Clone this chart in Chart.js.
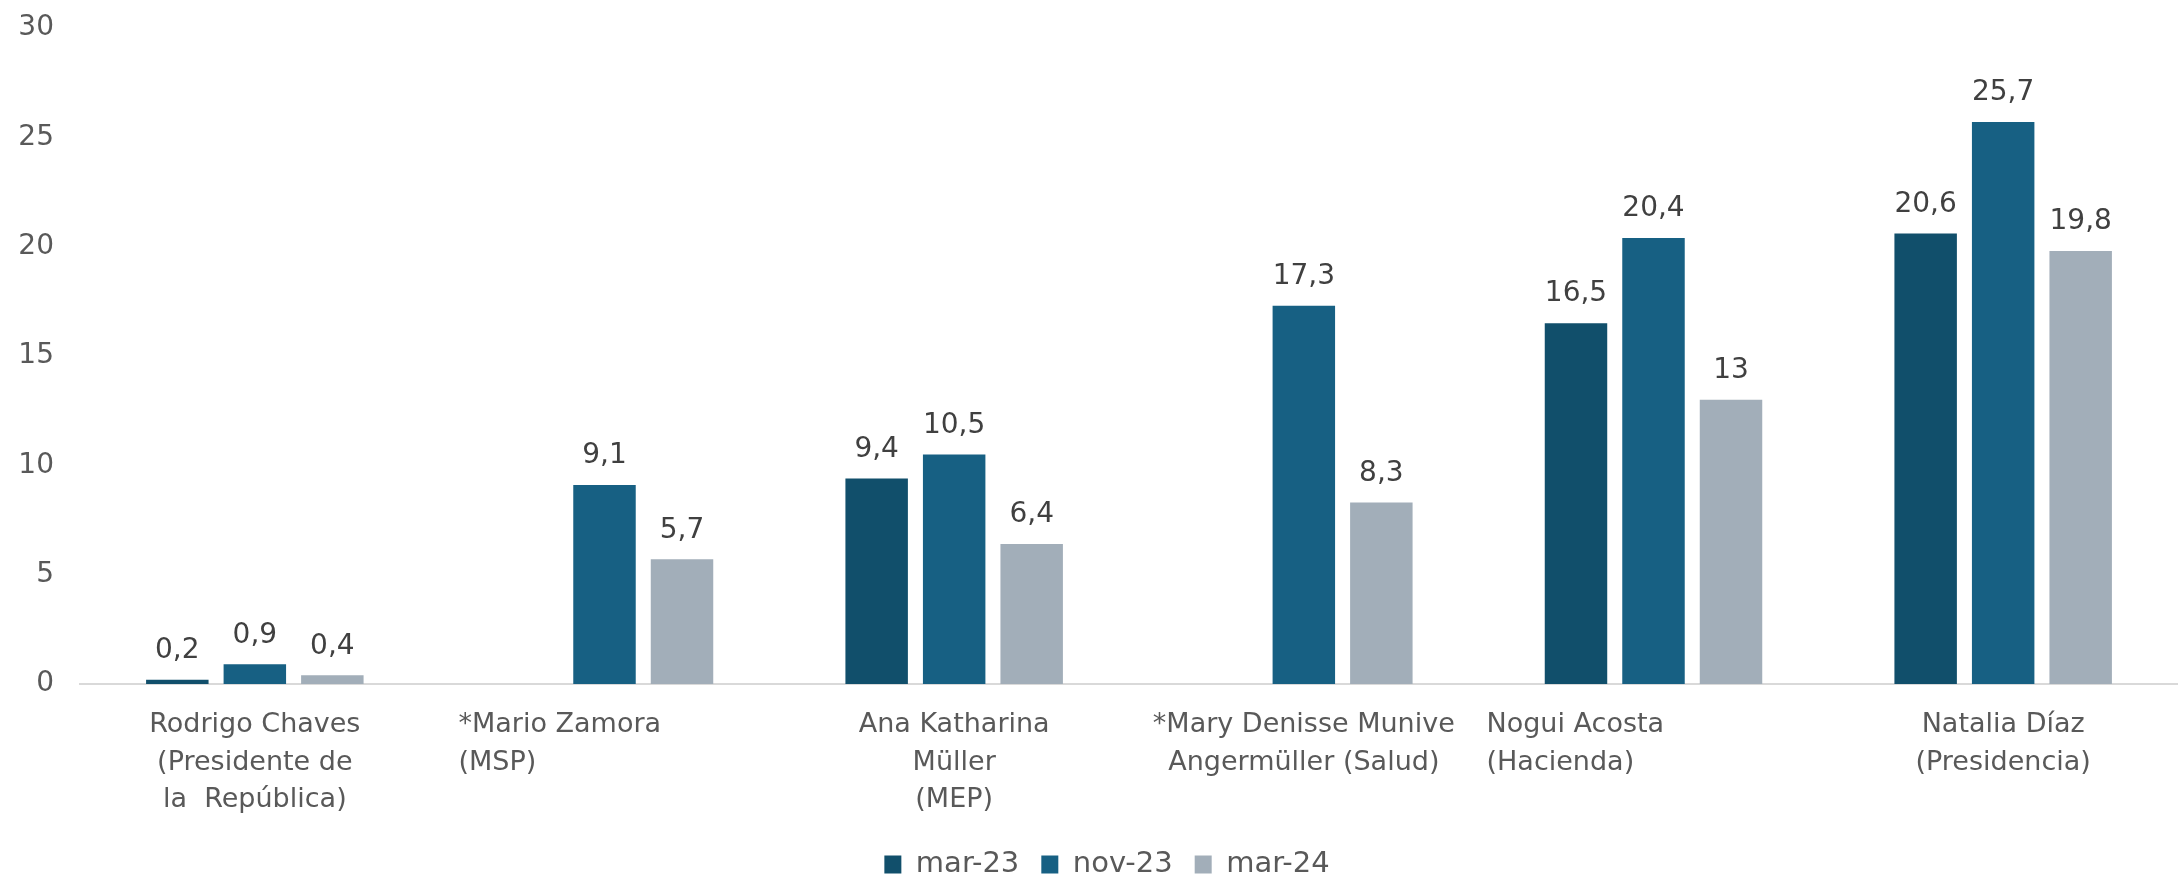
<!DOCTYPE html>
<html>
<head>
<meta charset="utf-8">
<script src="https://cdn.jsdelivr.net/npm/chart.js@4.4.1/dist/chart.umd.min.js"></script>
<style>
  html, body { margin: 0; padding: 0; background: #ffffff; }
  #wrap { width: 2178px; height: 878px; position: relative; }
</style>
</head>
<body>
<div id="wrap"><canvas id="c"></canvas></div>
<script>
// ---- Data ----
const categories = [
  ["Rodrigo Chaves", "(Presidente de", "la  República)"],
  ["*Mario Zamora", "(MSP)"],
  ["Ana Katharina", "Müller", "(MEP)"],
  ["*Mary Denisse Munive", "Angermüller (Salud)"],
  ["Nogui Acosta", "(Hacienda)"],
  ["Natalia Díaz", "(Presidencia)"]
];
const seriesNames = ["mar-23", "nov-23", "mar-24"];
const mar23 = [0.2, null, 9.4, null, 16.5, 20.6];
const nov23 = [0.9, 9.1, 10.5, 17.3, 20.4, 25.7];
const mar24 = [0.4, 5.7, 6.4, 8.3, 13, 19.8];
const yTicks = [0, 5, 10, 15, 20, 25, 30];

// ---- Style ----
const colors = ["#114F6B", "#176083", "#A2AEB9"];
const FONT = "'DejaVu Sans', Verdana, sans-serif";
// per-label alignment of category text: [align, offset from category centre in px]
const labelAlign = [["center", 0], ["left", -146], ["center", 0], ["center", 0], ["left", -167], ["center", 0]];
const LEGEND_SHIFT = 18;

const dataLabelPlugin = {
  id: 'dataLabels',
  afterDatasetsDraw(chart) {
    const ctx = chart.ctx;
    ctx.save();
    ctx.font = "28px " + FONT;
    ctx.fillStyle = "#404040";
    ctx.textAlign = "center";
    ctx.textBaseline = "bottom";
    chart.data.datasets.forEach((ds, di) => {
      const meta = chart.getDatasetMeta(di);
      meta.data.forEach((bar, i) => {
        const v = ds.data[i];
        if (v === null || v === undefined) return;
        const txt = String(v).replace('.', ',');
        ctx.fillText(txt, bar.x, bar.y - 15);
      });
    });
    ctx.restore();
  }
};

const catLabelPlugin = {
  id: 'catLabels',
  afterDraw(chart) {
    const ctx = chart.ctx;
    const xs = chart.scales.x;
    ctx.save();
    ctx.font = "27px " + FONT;
    ctx.fillStyle = "#595959";
    ctx.textBaseline = "middle";
    const firstY = chart.chartArea.bottom + 41;
    const lh = 37.5;
    chart.data.labels.forEach((lines, i) => {
      const cx = xs.getPixelForValue(i);
      const [al, off] = labelAlign[i];
      ctx.textAlign = al;
      lines.forEach((ln, k) => {
        ctx.fillText(ln, cx + off, firstY + k * lh);
      });
    });
    ctx.restore();
  }
};

const legendShiftPlugin = {
  id: 'legendShift',
  afterLayout(chart) {
    if (chart.legend) {
      chart.legend.left += LEGEND_SHIFT;
      chart.legend.right += LEGEND_SHIFT;
    }
  }
};

new Chart(document.getElementById('c'), {
  type: 'bar',
  data: {
    labels: categories,
    datasets: [
      { label: seriesNames[0], data: mar23, backgroundColor: colors[0] },
      { label: seriesNames[1], data: nov23, backgroundColor: colors[1] },
      { label: seriesNames[2], data: mar24, backgroundColor: colors[2] }
    ]
  },
  options: {
    responsive: true,
    maintainAspectRatio: false,
    animation: false,
    devicePixelRatio: 1,
    layout: { padding: { top: 28, left: 0, right: 0, bottom: 0 } },
    datasets: { bar: { categoryPercentage: 0.665, barPercentage: 0.806 } },
    scales: {
      x: {
        grid: { display: false },
        border: { display: true, color: '#D9D9D9', width: 2 },
        ticks: { display: false },
        afterFit(scale) { scale.height = 144; }
      },
      y: {
        min: 0, max: 30,
        afterBuildTicks(scale) { scale.ticks = yTicks.map(v => ({ value: v })); },
        grid: { display: false, drawTicks: false },
        border: { display: false },
        ticks: {
          font: { family: FONT, size: 28 },
          color: '#595959',
          padding: 26
        },
        afterFit(scale) { scale.width = 80; scale.paddingTop = 0; scale.paddingBottom = 0; }
      }
    },
    plugins: {
      legend: {
        position: 'bottom',
        maxHeight: 50,
        labels: {
          font: { family: FONT, size: 29 },
          color: '#595959',
          boxWidth: 17,
          boxHeight: 18,
          padding: 22
        }
      },
      tooltip: { enabled: false }
    }
  },
  plugins: [dataLabelPlugin, catLabelPlugin, legendShiftPlugin]
});
</script>
</body>
</html>
